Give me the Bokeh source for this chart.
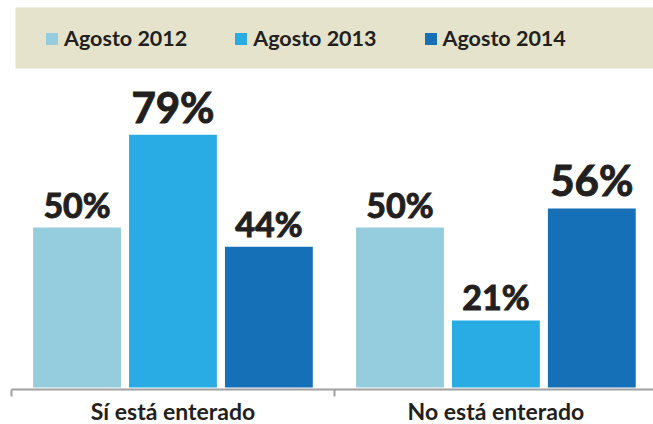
from bokeh.plotting import figure
from bokeh.models import (ColumnDataSource, Range1d, LinearAxis, FixedTicker,
                          Legend, LegendItem, BoxAnnotation)
from bokeh.core.properties import value, field
from bokeh.embed import file_html
from bokeh.resources import INLINE

# ---- data ----
categories = ["Sí está enterado", "No está enterado"]
series = ["Agosto 2012", "Agosto 2013", "Agosto 2014"]
v2012 = [50, 50]
v2013 = [79, 21]
v2014 = [44, 56]
values = [v2012, v2013, v2014]

colors = ["#95CDDF", "#29ACE3", "#1670B7"]
offsets = [-0.297, 0.0, 0.297]
bar_w = 0.272
INK = "#231F20"

p = figure(frame_width=642, frame_height=389,
           x_range=Range1d(0, 1.988), y_range=Range1d(-0.6, 120.96),
           output_backend="svg", toolbar_location=None,
           x_axis_type=None, y_axis_type=None,
           min_border_left=11, min_border_right=0, min_border_top=0,
           min_border_bottom=0)
p.outline_line_color = None
p.xgrid.visible = False
p.ygrid.visible = False
p.background_fill_color = "white"
p.border_fill_color = "white"

band = BoxAnnotation(left=15, right=653, top=7, bottom=68,
                     left_units="canvas", right_units="canvas",
                     top_units="canvas", bottom_units="canvas",
                     fill_color="#E5E3CB", fill_alpha=1.0, line_color=None)
p.add_layout(band)

items = []
for j, (name, vals) in enumerate(zip(series, values)):
    xs = [i + 0.5 + offsets[j] for i in range(len(categories))]
    group_max = [max(values[k][i] for k in range(len(series))) for i in range(len(categories))]
    sizes = ["42px" if vals[i] == group_max[i] else "34px" for i in range(len(categories))]
    src = ColumnDataSource(dict(x=xs, v=vals,
                                label=[f"{v}%" for v in vals], size=sizes))
    r = p.vbar(x="x", top="v", bottom=0, width=bar_w, source=src,
               fill_color=colors[j], line_color=None)
    p.text(x="x", y="v", text="label", source=src,
           text_font=value("Lato"), text_font_style="bold",
           text_font_size=field("size"), text_color=INK,
           text_outline_color=INK,
           text_align="center", text_baseline="bottom", y_offset=-3)
    items.append(LegendItem(label=name, renderers=[r]))

legend = Legend(items=items, orientation="horizontal", location=(33, 338),
                glyph_width=15, glyph_height=15, label_standoff=5, spacing=46,
                padding=0, margin=0, background_fill_alpha=0,
                border_line_color=None,
                label_text_font="Lato", label_text_font_style="bold",
                label_text_font_size="21.5px", label_text_color=INK)
p.add_layout(legend)

axis = LinearAxis(ticker=FixedTicker(ticks=[0.5, 1.5], minor_ticks=[0, 1, 2]),
                  major_label_overrides={0.5: categories[0], 1.5: categories[1]},
                  axis_line_color="#A0A0A0", axis_line_width=2,
                  major_tick_line_color=None, major_tick_out=0, major_tick_in=0,
                  minor_tick_line_color="#A0A0A0", minor_tick_line_width=2,
                  minor_tick_out=7, minor_tick_in=0,
                  major_label_standoff=0, axis_label_standoff=0,
                  major_label_text_font="Lato",
                  major_label_text_font_style="bold",
                  major_label_text_font_size="23px",
                  major_label_text_color=INK)
p.add_layout(axis, "below")

open("out.html", "w").write(file_html(p, INLINE))
